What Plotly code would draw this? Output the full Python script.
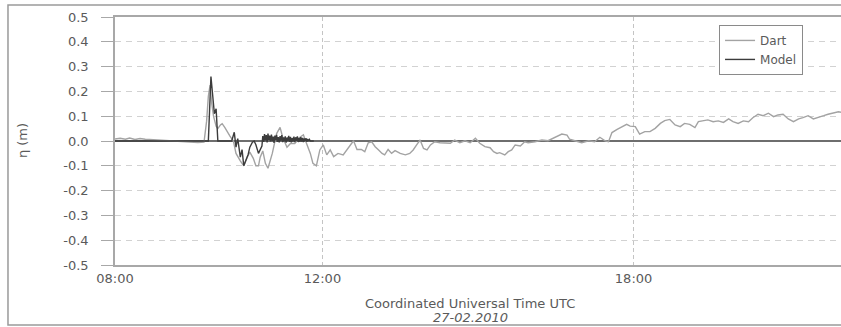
import plotly.graph_objects as go
import pandas as pd

DATE = "2010-02-27"

# Dart observations (time UTC, eta in m)
DART_TIME = [
    "08:00", "08:06", "08:12", "08:17", "08:23", "08:29", "08:35", "08:41", "08:52", "09:04",
    "09:15", "09:27", "09:36", "09:43", "09:46", "09:48", "09:50", "09:52", "09:54", "09:57",
    "09:59", "10:02", "10:04", "10:07", "10:10", "10:13", "10:17", "10:20", "10:25", "10:29",
    "10:33", "10:36", "10:40", "10:43", "10:46", "10:48", "10:51", "10:54", "10:57", "11:02",
    "11:07", "11:11", "11:14", "11:19", "11:23", "11:28", "11:34", "11:38", "11:40", "11:42",
    "11:46", "11:49", "11:53", "11:57", "12:01", "12:05", "12:09", "12:13", "12:18", "12:24",
    "12:28", "12:32", "12:36", "12:40", "12:45", "12:49", "12:53", "12:57", "13:01", "13:05",
    "13:09", "13:12", "13:16", "13:20", "13:24", "13:30", "13:36", "13:41", "13:45", "13:49",
    "13:53", "13:57", "14:01", "14:05", "14:10", "14:16", "14:22", "14:28", "14:33", "14:39",
    "14:45", "14:51", "14:57", "15:02", "15:08", "15:14", "15:18", "15:22", "15:25", "15:31",
    "15:35", "15:39", "15:43", "15:49", "15:54", "15:58", "16:06", "16:14", "16:21", "16:29",
    "16:37", "16:43", "16:46", "16:52", "17:00", "17:08", "17:15", "17:21", "17:27", "17:31",
    "17:35", "17:41", "17:46", "17:52", "17:56", "18:02", "18:07", "18:13", "18:19", "18:25",
    "18:31", "18:36", "18:42", "18:48", "18:54", "18:59", "19:05", "19:11", "19:15", "19:21",
    "19:26", "19:32", "19:38", "19:44", "19:50", "19:55", "20:01", "20:07", "20:13", "20:18",
    "20:24", "20:30", "20:36", "20:42", "20:47", "20:53", "20:59", "21:05", "21:11", "21:16",
    "21:22", "21:28", "21:34", "21:40", "21:45", "21:51", "21:57", "22:00",
]
DART_ETA = [
    0.008, 0.011, 0.007, 0.012, 0.006, 0.010, 0.007, 0.006, 0.004, 0.002,
    0.000, -0.003, -0.006, -0.004, 0.080, 0.180, 0.225, 0.150, 0.100, 0.060,
    0.050, 0.065, 0.070, 0.055, 0.035, 0.020, 0.000, -0.050, -0.080, -0.100,
    -0.065, -0.045, -0.070, -0.100, -0.100, -0.065, -0.040, -0.090, -0.110, -0.050,
    0.030, 0.055, 0.015, -0.025, -0.010, -0.010, 0.015, 0.025, 0.005, -0.015,
    -0.050, -0.090, -0.100, -0.036, -0.016, -0.056, -0.036, -0.063, -0.050, -0.056,
    -0.036, -0.016, 0.001, -0.034, -0.034, -0.043, -0.007, -0.003, -0.023, -0.036,
    -0.050, -0.056, -0.034, -0.050, -0.039, -0.050, -0.056, -0.050, -0.036, -0.016,
    0.004, -0.030, -0.036, -0.016, -0.003, -0.007, -0.007, -0.009, 0.004, -0.007,
    0.001, -0.007, 0.011, -0.009, -0.023, -0.027, -0.043, -0.050, -0.047, -0.056,
    -0.043, -0.036, -0.016, -0.020, -0.003, -0.007, -0.003, 0.004, 0.001, 0.015,
    0.028, 0.024, 0.007, 0.001, -0.007, 0.001, -0.003, 0.015, 0.001, -0.003,
    0.034, 0.047, 0.055, 0.067, 0.060, 0.058, 0.028, 0.038, 0.038, 0.051,
    0.071, 0.082, 0.087, 0.065, 0.058, 0.071, 0.067, 0.054, 0.078, 0.081,
    0.085, 0.078, 0.081, 0.075, 0.089, 0.078, 0.071, 0.081, 0.078, 0.094,
    0.108, 0.102, 0.112, 0.098, 0.105, 0.108, 0.089, 0.078, 0.089, 0.094,
    0.102, 0.089, 0.094, 0.102, 0.108, 0.112, 0.118, 0.116,
]

# Model results (time UTC, eta in m)
MODEL_TIME = [
    "08:00", "09:48", "09:51", "09:55", "09:57", "09:59", "10:15", "10:18", "10:20", "10:22",
    "10:25", "10:27", "10:29", "10:32", "10:34", "10:36", "10:39", "10:41", "10:43", "10:46",
    "10:48", "10:50",
    "10:51", "10:52", "10:53", "10:54", "10:55", "10:56", "10:57", "10:58", "10:59", "11:00",
    "11:01", "11:02", "11:03", "11:04", "11:05", "11:06", "11:07", "11:08", "11:09", "11:10",
    "11:11", "11:12", "11:13", "11:14", "11:15", "11:16", "11:17", "11:18", "11:19", "11:20",
    "11:21", "11:22", "11:23", "11:24", "11:25", "11:26", "11:27", "11:28", "11:29", "11:30",
    "11:31", "11:32", "11:33", "11:34", "11:35", "11:36", "11:37", "11:38", "11:39", "11:40",
    "11:41", "11:42", "11:43", "11:44", "11:45", "11:46", "11:50",
]
MODEL_ETA = [
    0.000, 0.000, 0.260, 0.110, 0.130, 0.000, 0.000, 0.035, -0.025, 0.010,
    -0.065, -0.035, -0.100, -0.075, -0.055, -0.025, -0.005, 0.000, -0.015, -0.050,
    -0.035, -0.020,
    0.020, -0.004, 0.028, 0.002, 0.024, -0.006, 0.030, 0.004, 0.022, -0.002,
    0.026, 0.000, 0.018, -0.008, 0.022, 0.003, 0.025, -0.004, 0.016, -0.006,
    0.020, 0.001, 0.024, -0.005, 0.015, -0.003, 0.019, -0.007, 0.014, 0.000,
    0.021, -0.004, 0.017, -0.006, 0.012, -0.002, 0.018, -0.005, 0.015, 0.000,
    0.019, -0.004, 0.013, -0.003, 0.016, -0.002, 0.012, -0.004, 0.010, -0.001,
    0.011, -0.003, 0.008, 0.000, 0.006, 0.000, 0.000,
]

X_TICKS = ["08:00", "12:00", "18:00"]
X_RANGE = ["08:00", "22:00"]
Y_TICKS = [0.5, 0.4, 0.3, 0.2, 0.1, 0.0, -0.1, -0.2, -0.3, -0.4, -0.5]
Y_TICK_LABELS = ["0.5", "0.4", "0.3", "0.2", "0.1", "0.0", "-0.1", "-0.2", "-0.3", "-0.4", "-0.5"]


def to_dt(times):
    return pd.to_datetime([f"{DATE} {t}" for t in times])


FONT = "DejaVu Sans"
TXT = "#5a5a5a"

fig = go.Figure()
fig.add_trace(go.Scatter(
    x=to_dt(DART_TIME), y=DART_ETA, mode="lines", name="Dart",
    line=dict(color="#a3a3a3", width=1.4),
))
fig.add_trace(go.Scatter(
    x=to_dt(MODEL_TIME), y=MODEL_ETA, mode="lines", name="Model",
    line=dict(color="#3c3c3c", width=1.4),
))

fig.update_layout(
    width=841, height=327,
    margin=dict(l=115, r=0, t=17, b=62),
    paper_bgcolor="white", plot_bgcolor="white",
    font=dict(family=FONT, size=13, color=TXT),
    showlegend=True,
    legend=dict(
        x=0.832, y=0.968, xanchor="left", yanchor="top",
        bgcolor="white", bordercolor="#8a8a8a", borderwidth=1,
        font=dict(family=FONT, size=12, color=TXT),
        itemwidth=30, tracegroupgap=0,
    ),
    xaxis=dict(
        type="date",
        range=list(to_dt(X_RANGE)),
        tickvals=list(to_dt(X_TICKS)), ticktext=X_TICKS,
        ticks="", ticklabelstandoff=1,
        showline=True, linecolor="#a8a8a8", linewidth=1.5, mirror=True,
        showgrid=True, gridcolor="#c4c4c4", gridwidth=1, griddash="4px,3px",
        zeroline=False,
        tickfont=dict(family=FONT, size=13, color=TXT),
    ),
    yaxis=dict(
        range=[-0.5, 0.5],
        tickvals=Y_TICKS, ticktext=Y_TICK_LABELS,
        ticks="outside", ticklen=12, tickcolor="#a8a8a8", tickwidth=1.2,
        ticklabelstandoff=10,
        showline=True, linecolor="#a8a8a8", linewidth=1.5,
        showgrid=True, gridcolor="#d2d2d2", gridwidth=1, griddash="6px,5px",
        zeroline=True, zerolinecolor="#6e6e6e", zerolinewidth=1.5,
        tickfont=dict(family=FONT, size=13, color=TXT),
    ),
    yaxis2=dict(
        overlaying="y", side="right", range=[-0.5, 0.5],
        tickvals=Y_TICKS, showticklabels=False,
        ticks="inside", ticklen=8, tickcolor="#a8a8a8", tickwidth=1.2,
        showgrid=False, zeroline=False, showline=False,
    ),
    annotations=[
        dict(text="η (m)", xref="paper", yref="paper", x=-0.128, y=0.5,
             textangle=-90, showarrow=False, xanchor="center", yanchor="middle",
             font=dict(family=FONT, size=13, color=TXT)),
        dict(text="Coordinated Universal Time UTC", xref="paper", yref="paper",
             x=0.489, y=-0.157, showarrow=False, xanchor="center", yanchor="middle",
             font=dict(family=FONT, size=13, color=TXT)),
        dict(text="<i>27-02.2010</i>", xref="paper", yref="paper",
             x=0.489, y=-0.2137, showarrow=False, xanchor="center", yanchor="middle",
             font=dict(family=FONT, size=13, color=TXT)),
    ],
    shapes=[
        dict(type="rect", xref="paper", yref="paper",
             x0=-0.1474, x1=1.01, y0=-0.2419, y1=1.048,
             line=dict(color="#9a9a9a", width=1.5), fillcolor="rgba(0,0,0,0)",
             layer="below"),
    ],
)

fig.write_html(
    "out.html",
    config={"displayModeBar": False},
    post_script="document.body.style.margin='0';document.body.style.overflow='hidden';",
)
